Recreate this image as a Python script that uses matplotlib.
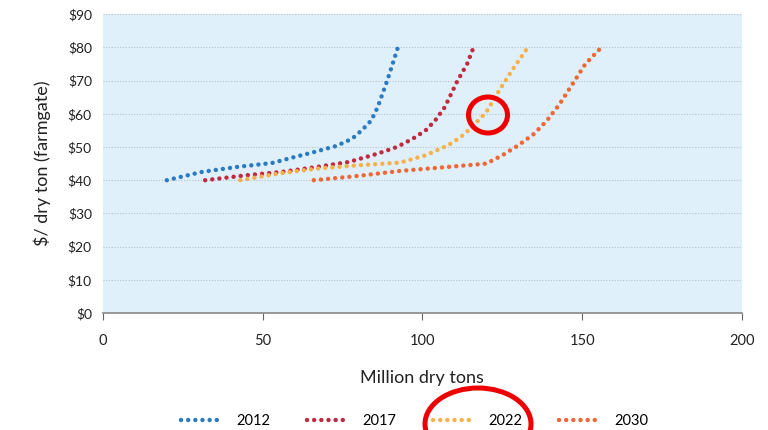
import matplotlib
matplotlib.use("Agg")
from matplotlib import pyplot
from matplotlib.patches import Ellipse

# supply curves: (million dry tons, $/dry ton)
x_2012 = [20, 31, 42, 53, 60, 65, 73, 78, 81, 84, 86, 89, 92.5]
y_2012 = [40, 42.5, 44, 45.2, 47, 48.2, 50.3, 52.5, 55, 58, 62, 70, 80.5]
x_2017 = [32, 45, 56, 67, 77, 86, 92, 97, 101, 104, 107, 109, 111, 114, 116]
y_2017 = [40, 41.5, 42.5, 44, 45.5, 48, 50, 52.5, 55, 58, 62, 66, 70, 75, 80]
x_2022 = [43, 55, 67, 80, 93, 101, 108, 112, 115, 120, 124, 128, 133]
y_2022 = [40, 42, 43.5, 44.5, 45.3, 47.5, 50.5, 53, 55.5, 60.5, 67, 73, 80]
x_2030 = [66, 80, 93, 108, 120, 125, 130, 135, 139, 143, 147, 151, 156]
y_2030 = [40, 41.3, 42.8, 44, 45, 47.5, 50.5, 54, 58, 63, 69, 75, 80]

SERIES = [("2012", x_2012, y_2012, "#2a7bc1"),
          ("2017", x_2017, y_2017, "#c12a3e"),
          ("2022", x_2022, y_2022, "#f8b14a"),
          ("2030", x_2030, y_2030, "#ee6734")]

yticks = list(range(0, 91, 10))
xticks = [0, 50, 100, 150, 200]

pyplot.rcParams["font.family"] = ["Lato", "DejaVu Sans"]

fig = pyplot.figure(figsize=(7.68, 4.30), dpi=100)
ax = fig.add_axes([0.134, 0.272, 0.832, 0.695])
ax.set_facecolor("#dff0fa")

for label, xs, ys, color in SERIES:
    ax.plot(xs, ys, color=color, linewidth=3.2, linestyle=(0, (0.01, 1.6)),
            dash_capstyle="round", label=label)

ax.set_xlim(0, 200)
ax.set_ylim(0, 90)
ax.set_xticks(xticks)
ax.set_yticks(yticks)
ax.set_yticklabels(["${}".format(v) for v in yticks])
ax.tick_params(axis="y", length=0, labelsize=10, pad=8, colors="#222222")
ax.tick_params(axis="x", length=5, color="#666666", labelsize=10.5, pad=10,
               labelcolor="#222222")
ax.yaxis.grid(True, color="#b8c2c8", linestyle=(0, (1, 1.5)), linewidth=0.8)
ax.set_axisbelow(True)
for side in ("left", "right", "top"):
    ax.spines[side].set_visible(False)
ax.spines["bottom"].set_color("#888888")
ax.spines["bottom"].set_linewidth(1.2)

ax.set_xlabel("Million dry tons", fontsize=13, labelpad=16, color="#222222")
ax.set_ylabel("$/ dry ton (farmgate)", fontsize=13, labelpad=12, color="#222222")

fig.legend(loc="center", bbox_to_anchor=(0.540, 1 - 421 / 430), ncol=4, frameon=False,
           fontsize=10.5, handlelength=2.8, columnspacing=2.5, handletextpad=1.0,
           borderpad=0.1)

# red highlight marks
fig.patches.append(Ellipse((488 / 768, 1 - 115 / 430), 39 / 768, 36 / 430,
                           transform=fig.transFigure, fill=False,
                           edgecolor="#ee0000", linewidth=3.6))
fig.patches.append(Ellipse((478 / 768, 1 - 424 / 430), 106 / 768, 72 / 430,
                           transform=fig.transFigure, fill=False,
                           edgecolor="#ee0000", linewidth=3.6))

fig.savefig("out.png", dpi=100)
